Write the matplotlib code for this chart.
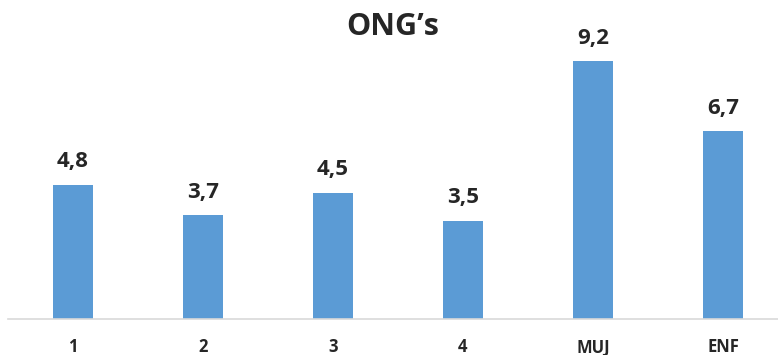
import matplotlib
matplotlib.use("Agg")
import matplotlib.pyplot as plt

categories = ["1", "2", "3", "4", "MUJ", "ENF"]
values = [4.8, 3.7, 4.5, 3.5, 9.2, 6.7]
title = "ONG\u2019s"

plt.rcParams['font.family'] = ['Open Sans', 'DejaVu Sans']

W, H = 778, 355
fig = plt.figure(figsize=(W / 100, H / 100), dpi=100)
# plot area in pixels: left 8, baseline at y=319, top at y=39
left, base, top = 8, 319, 39
ax = fig.add_axes([left / W, (H - base) / H, 780 / W, (base - top) / H])

x = range(len(categories))
bars = ax.bar(x, values, width=0.315, color="#5B9BD5", zorder=2)
ax.set_xlim(-0.5, len(categories) - 0.5)
ax.set_ylim(0, 10)

for rect, v in zip(bars, values):
    ax.annotate(f"{v:.1f}".replace(".", ","),
                (rect.get_x() + rect.get_width() / 2, v),
                xytext=(0, 9), textcoords="offset points",
                ha="center", va="bottom", fontsize=16, fontweight="bold",
                color="#262626")

ax.set_xticks(list(x))
ax.set_xticklabels(categories, fontsize=12, fontweight="bold", color="#262626")
ax.tick_params(axis="x", length=0, pad=14)
ax.set_yticks([])
for s in ["top", "right", "left"]:
    ax.spines[s].set_visible(False)
ax.spines["bottom"].set_color("#D9D9D9")
ax.spines["bottom"].set_linewidth(1.2)

fig.text(393 / W, 1 - 27 / H, title, ha="center", va="center",
         fontsize=22, fontweight="bold", color="#262626")

fig.savefig("out.png", dpi=100)
